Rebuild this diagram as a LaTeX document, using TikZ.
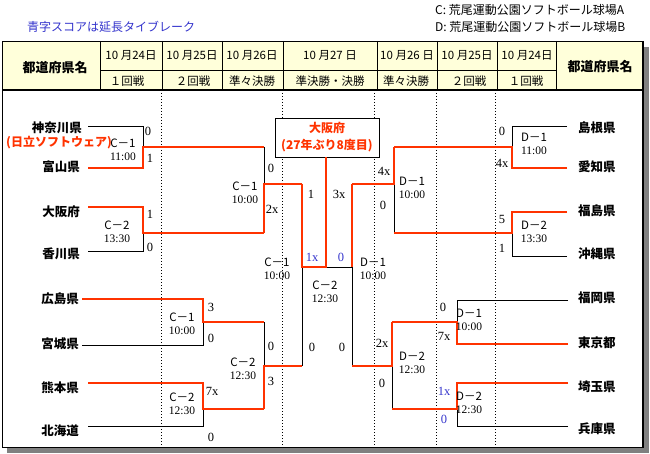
\documentclass[tikz,border=0pt]{standalone}
\usepackage{fontspec}
\setmainfont{Liberation Serif}
\newfontfamily\cjk{Noto Sans CJK JP}
\definecolor{myred}{RGB}{255,51,0}
\definecolor{myblue}{RGB}{51,51,204}
\definecolor{hdrbg}{RGB}{255,255,218}
\definecolor{shadowgray}{RGB}{128,128,128}
\begin{document}
\begin{tikzpicture}[x=1pt,y=-1pt,
  teamL/.style={font=\cjk\bfseries\fontsize{12.5}{14}\selectfont, inner sep=0pt, anchor=east},
  teamR/.style={font=\cjk\bfseries\fontsize{12.5}{14}\selectfont, inner sep=0pt, anchor=west},
  score/.style={font=\fontsize{12.5}{13}\selectfont, inner sep=0pt},
  xscore/.style={score, text=myblue},
  match/.style={font=\fontsize{11.5}{13}\selectfont, inner sep=0pt, align=center},
  hdrtxt/.style={font=\cjk\fontsize{11.5}{12}\selectfont, inner sep=0pt},
  hdrbold/.style={font=\cjk\bfseries\fontsize{13}{14}\selectfont, inner sep=0pt},
  toptxt/.style={font=\cjk\fontsize{12}{13}\selectfont, inner sep=0pt, anchor=west},
  win/.style={draw=myred, line width=2pt},
  lose/.style={draw=black, line width=0.8pt},
  dots/.style={line width=0.8pt, dash pattern=on 1pt off 2pt},
  grid/.style={line width=0.8pt}]
\useasboundingbox (0,0) rectangle (650,454);

% top notes
\node[toptxt, text=myblue] (note) at (27,27) {青字スコアは延長タイブレーク};
\node[toptxt] (venC) at (435,10) {C: 荒尾運動公園ソフトボール球場A};
\node[toptxt] (venD) at (435,27) {D: 荒尾運動公園ソフトボール球場B};

% frame with shadow
\fill[shadowgray] (7,47) rectangle (649,453);
\fill[white] (2,41) rectangle (643,447);
\fill[hdrbg] (2,41) rectangle (643,90);
\draw[grid] (2,41) rectangle (643,447);
\draw[line width=1.6pt] (643,41) -- (643,447);
\draw[line width=2pt] (2,90) -- (643,90);
\foreach \x in {100,162,222,283,377,437,497,556} \draw[grid] (\x,41) -- (\x,90);
\draw[grid] (100,70) -- (556,70);

% header texts
\node[hdrbold] (hl) at (55,68) {都道府県名};
\node[hdrbold] (hr) at (600,67) {都道府県名};
\node[hdrtxt] (d1) at (131,55) {10 月24日};
\node[hdrtxt] (d2) at (192,55) {10 月25日};
\node[hdrtxt] (d3) at (252,55) {10 月26日};
\node[hdrtxt] (d4) at (330,55) {10 月27 日};
\node[hdrtxt] (d5) at (407,55) {10 月26 日};
\node[hdrtxt] (d6) at (467,55) {10 月25日};
\node[hdrtxt] (d7) at (527,55) {10 月24日};
\node[hdrtxt] (r1) at (127,81) {１回戦};
\node[hdrtxt] (r2) at (193,81) {２回戦};
\node[hdrtxt] (r3) at (252,81) {準々決勝};
\node[hdrtxt] (r4) at (330,81) {準決勝・決勝};
\node[hdrtxt] (r5) at (406,81) {準々決勝};
\node[hdrtxt] (r6) at (469,81) {２回戦};
\node[hdrtxt] (r7) at (526,81) {１回戦};

% dotted guides
\foreach \x in {161,282,374,436,495} \draw[dots] (\x,93) -- (\x,446);

% team names left
\node[teamL] (L1) at (82,128) {神奈川県};
\node[font=\cjk\bfseries\fontsize{12}{13}\selectfont, text=myred, inner sep=0pt] (L1b) at (59,143) {(日立ソフトウェア)};
\node[teamL] (L2) at (80,167) {富山県};
\node[teamL] (L3) at (80,212) {大阪府};
\node[teamL] (L4) at (80,254) {香川県};
\node[teamL] (L5) at (79,299) {広島県};
\node[teamL] (L6) at (79,344) {宮城県};
\node[teamL] (L7) at (79,388) {熊本県};
\node[teamL] (L8) at (79,431) {北海道};
% team names right
\node[teamR] (R1) at (578,128) {島根県};
\node[teamR] (R2) at (578,167) {愛知県};
\node[teamR] (R3) at (578,211) {福島県};
\node[teamR] (R4) at (578,254) {沖縄県};
\node[teamR] (R5) at (578,298) {福岡県};
\node[teamR] (R6) at (578,343) {東京都};
\node[teamR] (R7) at (578,387) {埼玉県};
\node[teamR] (R8) at (578,429) {兵庫県};

% line start coordinates
\coordinate (l1) at (88,126); \coordinate (l2) at (88,168);
\coordinate (l3) at (88,207); \coordinate (l4) at (88,251);
\coordinate (l5) at (82,299); \coordinate (l6) at (82,345);
\coordinate (l7) at (88,383); \coordinate (l8) at (88,426);
\coordinate (r1) at (567,126); \coordinate (r2) at (567,168);
\coordinate (r3) at (567,212); \coordinate (r4) at (567,256);
\coordinate (r5) at (568,300); \coordinate (r6) at (568,344);
\coordinate (r7) at (568,383); \coordinate (r8) at (568,426);

% junctions left
\coordinate (A1t) at (143,126); \coordinate (A1m) at (143,147); \coordinate (A1b) at (143,168);
\coordinate (A2t) at (143,207); \coordinate (A2m) at (143,233); \coordinate (A2b) at (143,251);
\coordinate (A3t) at (203,299); \coordinate (A3m) at (203,322); \coordinate (A3b) at (203,345);
\coordinate (A4t) at (203,383); \coordinate (A4m) at (203,409); \coordinate (A4b) at (203,426);
\coordinate (B1t) at (264,147); \coordinate (B1m) at (264,184); \coordinate (B1b) at (264,233);
\coordinate (B2t) at (264,322); \coordinate (B2m) at (264,366); \coordinate (B2b) at (264,409);
\coordinate (S1t) at (302,184); \coordinate (S1m) at (302,267); \coordinate (S1b) at (302,366);
\coordinate (Fm) at (326,267);
% junctions right
\coordinate (D1t) at (512,126); \coordinate (D1m) at (512,147); \coordinate (D1b) at (512,168);
\coordinate (D2t) at (512,212); \coordinate (D2m) at (512,233); \coordinate (D2b) at (512,256);
\coordinate (D3t) at (457,300); \coordinate (D3m) at (457,322); \coordinate (D3b) at (457,344);
\coordinate (D4t) at (457,383); \coordinate (D4m) at (457,409); \coordinate (D4b) at (457,426);
\coordinate (E1t) at (394,147); \coordinate (E1m) at (394,184); \coordinate (E1b) at (394,233);
\coordinate (E2t) at (392,322); \coordinate (E2m) at (392,366); \coordinate (E2b) at (392,409);
\coordinate (S2t) at (352,184); \coordinate (S2m) at (352,267); \coordinate (S2b) at (352,366);

% champion box
\node[draw, line width=0.8pt, fill=white, minimum width=104pt, minimum height=39pt, inner sep=0pt,
  font=\cjk\bfseries\fontsize{12}{17}\selectfont, text=myred, align=center] (champ) at (327,137.5)
  {大阪府\\(27年ぶり8度目)};

% losing lines
\draw[lose] (l1) -- (A1t) -- (A1m);
\draw[lose] (l4) -- (A2b) -- (A2m);
\draw[lose] (l6) -- (A3b) -- (A3m);
\draw[lose] (l8) -- (A4b) -- (A4m);
\draw[lose] (B1t) -- (B1m);
\draw[lose] (B2t) -- (B2m);
\draw[lose] (S1b) -- (S1m);
\draw[lose] (r1) -- (D1t) -- (D1m);
\draw[lose] (r4) -- (D2b) -- (D2m);
\draw[lose] (r5) -- (D3t) -- (D3m);
\draw[lose] (r8) -- (D4b) -- (D4m);
\draw[lose] (E1b) -- (E1m);
\draw[lose] (E2b) -- (E2m);
\draw[lose] (S2b) -- (S2m) -- (Fm);

% winning lines
\draw[win] (l2) -- (A1b) -- (A1m) -- (B1t);
\draw[win] (l3) -- (A2t) -- (A2m) -- (B1b);
\draw[win] (l5) -- (A3t) -- (A3m) -- (B2t);
\draw[win] (l7) -- (A4t) -- (A4m) -- (B2b);
\draw[win] (B1b) -- (B1m) -- (S1t);
\draw[win] (B2b) -- (B2m) -- (S1b);
\draw[win] (S1t) -- (S1m) -- (Fm) -- (Fm |- champ.south);
\draw[win] (r2) -- (D1b) -- (D1m) -- (E1t);
\draw[win] (r3) -- (D2t) -- (D2m) -- (E1b);
\draw[win] (r6) -- (D3b) -- (D3m) -- (E2t);
\draw[win] (r7) -- (D4t) -- (D4m) -- (E2b);
\draw[win] (E1t) -- (E1m) -- (S2t);
\draw[win] (E2t) -- (E2m) -- (S2b);
\draw[win] (S2t) -- (S2m);

% scores left
\node[score] (sA1a) at (148,131) {0};
\node[score] (sA1b) at (150,158) {1};
\node[score] (sA2a) at (150,214) {1};
\node[score] (sA2b) at (150,247) {0};
\node[score] (sA3a) at (211,307) {3};
\node[score] (sA3b) at (211,338) {0};
\node[score] (sA4a) at (212,391) {7x};
\node[score] (sA4b) at (211,437) {0};
\node[score] (sB1a) at (271,168) {0};
\node[score] (sB1b) at (272,209) {2x};
\node[score] (sB2a) at (271,346) {0};
\node[score] (sB2b) at (271,381) {3};
\node[score] (sS1a) at (311,194) {1};
\node[score] (sS1b) at (312,347) {0};
\node[xscore] (sFa) at (312,257) {1x};
\node[xscore] (sFb) at (341,257) {0};
% scores right
\node[score] (sS2a) at (339,194) {3x};
\node[score] (sS2b) at (342,347) {0};
\node[score] (sE1a) at (384,171) {4x};
\node[score] (sE1b) at (383,205) {0};
\node[score] (sE2a) at (382,343) {2x};
\node[score] (sE2b) at (382,383) {0};
\node[score] (sD1a) at (502,131) {0};
\node[score] (sD1b) at (502,163) {4x};
\node[score] (sD2a) at (502,219) {5};
\node[score] (sD2b) at (502,248) {1};
\node[score] (sD3a) at (443,307) {0};
\node[score] (sD3b) at (444,336) {7x};
\node[xscore] (sD4a) at (444,391) {1x};
\node[xscore] (sD4b) at (444,419) {0};

% match labels
\node[match] (mA1) at (123,149.5) {{\cjk C－1}\\11:00};
\node[match] (mA2) at (117,231.5) {{\cjk C－2}\\13:30};
\node[match] (mA3) at (182,324) {{\cjk C－1}\\10:00};
\node[match] (mA4) at (182,404) {{\cjk C－2}\\12:30};
\node[match] (mB1) at (245,193) {{\cjk C－1}\\10:00};
\node[match] (mB2) at (243,368.5) {{\cjk C－2}\\12:30};
\node[match] (mS1) at (277,269) {{\cjk C－1}\\10:00};
\node[match] (mF) at (325,291.5) {{\cjk C－2}\\12:30};
\node[match] (mS2) at (373,269) {{\cjk D－1}\\10:00};
\node[match] (mE1) at (412,188) {{\cjk D－1}\\10:00};
\node[match] (mE2) at (412,363) {{\cjk D－2}\\12:30};
\node[match] (mD1) at (534,144) {{\cjk D－1}\\11:00};
\node[match] (mD2) at (534,231.5) {{\cjk D－2}\\13:30};
\node[match] (mD3) at (469,319.5) {{\cjk D－1}\\10:00};
\node[match] (mD4) at (469,402.5) {{\cjk D－2}\\12:30};
\end{tikzpicture}
\end{document}
